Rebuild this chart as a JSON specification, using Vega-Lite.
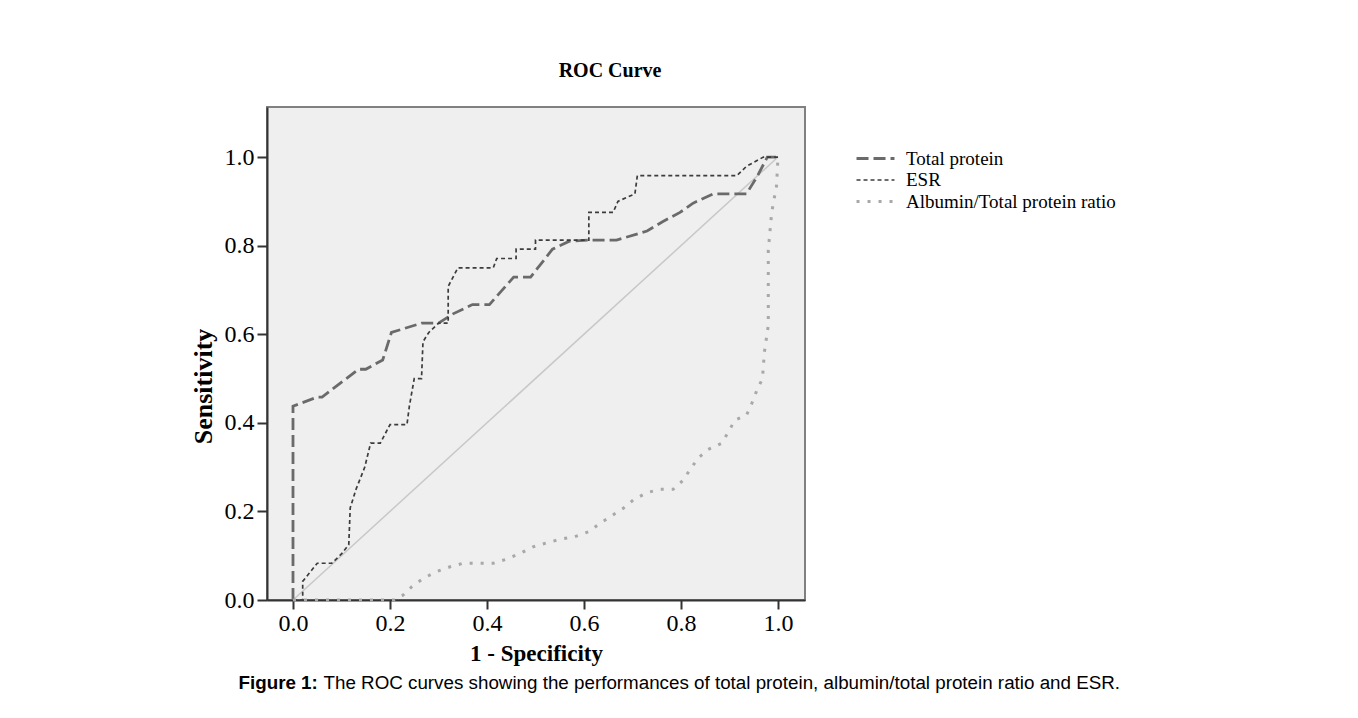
{
  "$schema": "https://vega.github.io/schema/vega-lite/v6.json",
  "width": 538,
  "height": 493,
  "autosize": {"type": "none"},
  "padding": {"left": 267, "top": 107, "right": 553, "bottom": 118},
  "background": "white",
  "title": {"text": "ROC Curve", "font": "Liberation Serif", "fontSize": 20, "fontWeight": "bold", "color": "#000000", "anchor": "middle", "dx": 74, "offset": 26},
  "config": {"view": {"fill": "#efefef", "stroke": "#808080", "strokeWidth": 2}, "axis": {"grid": false}},
  "resolve": {"scale": {"x": "independent", "y": "independent"}},
  "layer": [
    {
      "data": {"values": [{"fpr": 0, "tpr": 0}, {"fpr": 1, "tpr": 1}]},
      "mark": {"type": "line", "color": "#c8c8c8", "strokeWidth": 1.5},
      "encoding": {
        "x": {"field": "fpr", "type": "quantitative", "scale": {"domain": [-0.0536, 1.0557], "nice": false, "zero": false},
          "axis": {"orient": "bottom", "labels": false, "ticks": false, "domain": false, "grid": false, "title": "Figure 1:", "titleFont": "Liberation Sans", "titleFontSize": 18.8, "titleFontWeight": "bold", "titleColor": "#000000", "titleAlign": "left", "titleBaseline": "middle", "titleX": -29, "titleY": 82}},
        "y": {"field": "tpr", "type": "quantitative", "scale": {"domain": [0, 1.113], "nice": false, "zero": false},
          "axis": {"orient": "right", "labels": false, "ticks": false, "domain": false, "grid": false, "title": "The ROC curves showing the performances of total protein, albumin/total protein ratio and ESR.", "titleAngle": 0, "titleFont": "Liberation Sans", "titleFontSize": 18.8, "titleFontWeight": "normal", "titleColor": "#000000", "titleAlign": "left", "titleBaseline": "middle", "titleLimit": 1200, "titleX": -482, "titleY": 575}}
      }
    },
    {
      "data": {"values": [
        {"series": "Total protein", "fpr": 0, "tpr": 0},
        {"series": "Total protein", "fpr": 0, "tpr": 0.4375},
        {"series": "Total protein", "fpr": 0.05, "tpr": 0.458},
        {"series": "Total protein", "fpr": 0.06, "tpr": 0.458},
        {"series": "Total protein", "fpr": 0.11, "tpr": 0.5},
        {"series": "Total protein", "fpr": 0.135, "tpr": 0.521},
        {"series": "Total protein", "fpr": 0.15, "tpr": 0.521},
        {"series": "Total protein", "fpr": 0.185, "tpr": 0.542},
        {"series": "Total protein", "fpr": 0.203, "tpr": 0.604},
        {"series": "Total protein", "fpr": 0.265, "tpr": 0.625},
        {"series": "Total protein", "fpr": 0.3, "tpr": 0.625},
        {"series": "Total protein", "fpr": 0.33, "tpr": 0.646},
        {"series": "Total protein", "fpr": 0.37, "tpr": 0.667},
        {"series": "Total protein", "fpr": 0.405, "tpr": 0.667},
        {"series": "Total protein", "fpr": 0.455, "tpr": 0.729},
        {"series": "Total protein", "fpr": 0.49, "tpr": 0.729},
        {"series": "Total protein", "fpr": 0.535, "tpr": 0.792},
        {"series": "Total protein", "fpr": 0.57, "tpr": 0.81},
        {"series": "Total protein", "fpr": 0.61, "tpr": 0.8125},
        {"series": "Total protein", "fpr": 0.667, "tpr": 0.8125},
        {"series": "Total protein", "fpr": 0.73, "tpr": 0.833},
        {"series": "Total protein", "fpr": 0.762, "tpr": 0.854},
        {"series": "Total protein", "fpr": 0.798, "tpr": 0.875},
        {"series": "Total protein", "fpr": 0.825, "tpr": 0.896},
        {"series": "Total protein", "fpr": 0.867, "tpr": 0.917},
        {"series": "Total protein", "fpr": 0.935, "tpr": 0.917},
        {"series": "Total protein", "fpr": 0.958, "tpr": 0.958},
        {"series": "Total protein", "fpr": 0.978, "tpr": 1.0},
        {"series": "Total protein", "fpr": 1.0, "tpr": 1.0},
        {"series": "ESR", "fpr": 0, "tpr": 0},
        {"series": "ESR", "fpr": 0.02, "tpr": 0},
        {"series": "ESR", "fpr": 0.02, "tpr": 0.042},
        {"series": "ESR", "fpr": 0.05, "tpr": 0.083},
        {"series": "ESR", "fpr": 0.08, "tpr": 0.083},
        {"series": "ESR", "fpr": 0.1, "tpr": 0.104},
        {"series": "ESR", "fpr": 0.115, "tpr": 0.125},
        {"series": "ESR", "fpr": 0.118, "tpr": 0.208},
        {"series": "ESR", "fpr": 0.13, "tpr": 0.25},
        {"series": "ESR", "fpr": 0.148, "tpr": 0.3},
        {"series": "ESR", "fpr": 0.16, "tpr": 0.354},
        {"series": "ESR", "fpr": 0.18, "tpr": 0.354},
        {"series": "ESR", "fpr": 0.2, "tpr": 0.396},
        {"series": "ESR", "fpr": 0.235, "tpr": 0.396},
        {"series": "ESR", "fpr": 0.24, "tpr": 0.438},
        {"series": "ESR", "fpr": 0.25, "tpr": 0.5},
        {"series": "ESR", "fpr": 0.265, "tpr": 0.5},
        {"series": "ESR", "fpr": 0.268, "tpr": 0.583},
        {"series": "ESR", "fpr": 0.28, "tpr": 0.604},
        {"series": "ESR", "fpr": 0.3, "tpr": 0.625},
        {"series": "ESR", "fpr": 0.32, "tpr": 0.625},
        {"series": "ESR", "fpr": 0.32, "tpr": 0.708},
        {"series": "ESR", "fpr": 0.34, "tpr": 0.75},
        {"series": "ESR", "fpr": 0.413, "tpr": 0.75},
        {"series": "ESR", "fpr": 0.42, "tpr": 0.771},
        {"series": "ESR", "fpr": 0.46, "tpr": 0.771},
        {"series": "ESR", "fpr": 0.46, "tpr": 0.792},
        {"series": "ESR", "fpr": 0.5, "tpr": 0.792},
        {"series": "ESR", "fpr": 0.5, "tpr": 0.8125},
        {"series": "ESR", "fpr": 0.61, "tpr": 0.8125},
        {"series": "ESR", "fpr": 0.61, "tpr": 0.875},
        {"series": "ESR", "fpr": 0.66, "tpr": 0.875},
        {"series": "ESR", "fpr": 0.67, "tpr": 0.9},
        {"series": "ESR", "fpr": 0.705, "tpr": 0.917},
        {"series": "ESR", "fpr": 0.71, "tpr": 0.958},
        {"series": "ESR", "fpr": 0.915, "tpr": 0.958},
        {"series": "ESR", "fpr": 0.935, "tpr": 0.979},
        {"series": "ESR", "fpr": 0.97, "tpr": 1.0},
        {"series": "ESR", "fpr": 1.0, "tpr": 1.0},
        {"series": "Albumin/Total protein ratio", "fpr": 0, "tpr": 0},
        {"series": "Albumin/Total protein ratio", "fpr": 0.21, "tpr": 0},
        {"series": "Albumin/Total protein ratio", "fpr": 0.227, "tpr": 0.011},
        {"series": "Albumin/Total protein ratio", "fpr": 0.245, "tpr": 0.03},
        {"series": "Albumin/Total protein ratio", "fpr": 0.269, "tpr": 0.049},
        {"series": "Albumin/Total protein ratio", "fpr": 0.296, "tpr": 0.064},
        {"series": "Albumin/Total protein ratio", "fpr": 0.324, "tpr": 0.075},
        {"series": "Albumin/Total protein ratio", "fpr": 0.351, "tpr": 0.083},
        {"series": "Albumin/Total protein ratio", "fpr": 0.413, "tpr": 0.083},
        {"series": "Albumin/Total protein ratio", "fpr": 0.44, "tpr": 0.092},
        {"series": "Albumin/Total protein ratio", "fpr": 0.468, "tpr": 0.105},
        {"series": "Albumin/Total protein ratio", "fpr": 0.495, "tpr": 0.12},
        {"series": "Albumin/Total protein ratio", "fpr": 0.523, "tpr": 0.129},
        {"series": "Albumin/Total protein ratio", "fpr": 0.551, "tpr": 0.137},
        {"series": "Albumin/Total protein ratio", "fpr": 0.581, "tpr": 0.143},
        {"series": "Albumin/Total protein ratio", "fpr": 0.609, "tpr": 0.154},
        {"series": "Albumin/Total protein ratio", "fpr": 0.633, "tpr": 0.173},
        {"series": "Albumin/Total protein ratio", "fpr": 0.654, "tpr": 0.188},
        {"series": "Albumin/Total protein ratio", "fpr": 0.681, "tpr": 0.207},
        {"series": "Albumin/Total protein ratio", "fpr": 0.702, "tpr": 0.226},
        {"series": "Albumin/Total protein ratio", "fpr": 0.729, "tpr": 0.242},
        {"series": "Albumin/Total protein ratio", "fpr": 0.757, "tpr": 0.25},
        {"series": "Albumin/Total protein ratio", "fpr": 0.784, "tpr": 0.25},
        {"series": "Albumin/Total protein ratio", "fpr": 0.805, "tpr": 0.271},
        {"series": "Albumin/Total protein ratio", "fpr": 0.819, "tpr": 0.295},
        {"series": "Albumin/Total protein ratio", "fpr": 0.836, "tpr": 0.321},
        {"series": "Albumin/Total protein ratio", "fpr": 0.856, "tpr": 0.34},
        {"series": "Albumin/Total protein ratio", "fpr": 0.884, "tpr": 0.354},
        {"series": "Albumin/Total protein ratio", "fpr": 0.898, "tpr": 0.38},
        {"series": "Albumin/Total protein ratio", "fpr": 0.911, "tpr": 0.406},
        {"series": "Albumin/Total protein ratio", "fpr": 0.935, "tpr": 0.417},
        {"series": "Albumin/Total protein ratio", "fpr": 0.946, "tpr": 0.444},
        {"series": "Albumin/Total protein ratio", "fpr": 0.956, "tpr": 0.472},
        {"series": "Albumin/Total protein ratio", "fpr": 0.968, "tpr": 0.5},
        {"series": "Albumin/Total protein ratio", "fpr": 0.97, "tpr": 0.53},
        {"series": "Albumin/Total protein ratio", "fpr": 0.972, "tpr": 0.56},
        {"series": "Albumin/Total protein ratio", "fpr": 0.976, "tpr": 0.59},
        {"series": "Albumin/Total protein ratio", "fpr": 0.98, "tpr": 0.62},
        {"series": "Albumin/Total protein ratio", "fpr": 0.98, "tpr": 0.79},
        {"series": "Albumin/Total protein ratio", "fpr": 0.987, "tpr": 0.875},
        {"series": "Albumin/Total protein ratio", "fpr": 0.997, "tpr": 0.935},
        {"series": "Albumin/Total protein ratio", "fpr": 1.0, "tpr": 1.0}
      ]},
      "mark": {"type": "line"},
      "encoding": {
        "x": {"field": "fpr", "type": "quantitative", "scale": {"domain": [-0.0536, 1.0557], "nice": false, "zero": false},
          "axis": {"orient": "bottom", "values": [0, 0.2, 0.4, 0.6, 0.8, 1.0], "format": ".1f", "labelFont": "Liberation Serif", "labelFontSize": 24, "labelColor": "#000000", "labelPadding": 2, "labelFlush": false, "tickSize": 9, "tickColor": "#333333", "tickWidth": 2, "domainColor": "#333333", "domainWidth": 2, "grid": false,
            "title": "1 - Specificity", "titleFont": "Liberation Serif", "titleFontSize": 23, "titleFontWeight": "bold", "titleColor": "#000000", "titleAlign": "center", "titleBaseline": "middle", "titleX": 269, "titleY": 53}},
        "y": {"field": "tpr", "type": "quantitative", "scale": {"domain": [0, 1.113], "nice": false, "zero": false},
          "axis": {"orient": "left", "values": [0, 0.2, 0.4, 0.6, 0.8, 1.0], "format": ".1f", "labelFont": "Liberation Serif", "labelFontSize": 24, "labelColor": "#000000", "labelPadding": 3, "labelFlush": false, "tickSize": 10, "tickColor": "#333333", "tickWidth": 2, "domainColor": "#333333", "domainWidth": 2, "grid": false,
            "title": "Sensitivity", "titleFont": "Liberation Serif", "titleFontSize": 26, "titleFontWeight": "bold", "titleColor": "#000000", "titleAngle": -90, "titleAlign": "center", "titleBaseline": "middle", "titleX": -64, "titleY": 279}},
        "color": {"field": "series", "type": "nominal",
          "scale": {"domain": ["Total protein", "ESR", "Albumin/Total protein ratio"], "range": ["#6a6a6a", "#3c3c3c", "#a8a8a8"]},
          "legend": {"orient": "none", "legendX": 599, "legendY": 42, "title": null, "padding": 0, "labelFont": "Liberation Serif", "labelFontSize": 19, "labelColor": "#000000", "labelOffset": 21, "labelLimit": 400, "rowPadding": 1.5, "symbolType": "M-4,0H4", "symbolSize": 90}},
        "strokeDash": {"field": "series", "type": "nominal",
          "scale": {"domain": ["Total protein", "ESR", "Albumin/Total protein ratio"], "range": [[12, 5], [4, 3], [3, 8]]},
          "legend": {"orient": "none", "legendX": 599, "legendY": 42, "title": null, "padding": 0, "labelFont": "Liberation Serif", "labelFontSize": 19, "labelColor": "#000000", "labelOffset": 21, "labelLimit": 400, "rowPadding": 1.5, "symbolType": "M-4,0H4", "symbolSize": 90}},
        "strokeWidth": {"field": "series", "type": "nominal",
          "scale": {"type": "ordinal", "domain": ["Total protein", "ESR", "Albumin/Total protein ratio"], "range": [2.8, 1.7, 3]},
          "legend": {"orient": "none", "legendX": 599, "legendY": 42, "title": null, "padding": 0, "labelFont": "Liberation Serif", "labelFontSize": 19, "labelColor": "#000000", "labelOffset": 21, "labelLimit": 400, "rowPadding": 1.5, "symbolType": "M-4,0H4", "symbolSize": 90}},
        "order": {"value": null}
      }
    }
  ]
}
